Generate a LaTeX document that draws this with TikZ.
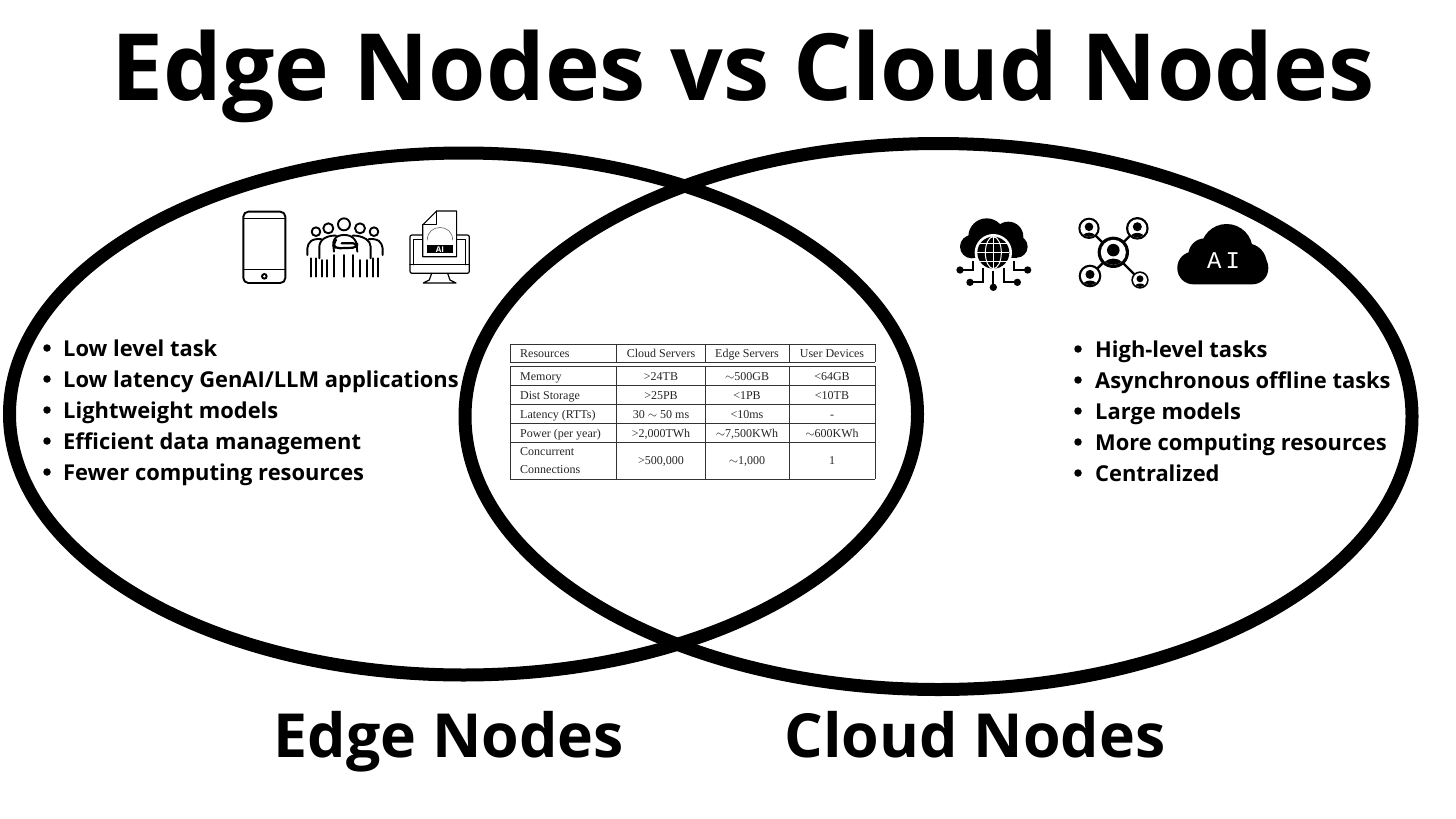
\documentclass[tikz,border=0pt]{standalone}
\usepackage{fontspec}
\setmainfont{Open Sans}
\newfontfamily\serifx{Liberation Serif}
\newfontfamily\monox{Liberation Mono}
\usetikzlibrary{calc}
\tikzset{
  x=1pt,y=-1pt,
  ring/.style={draw=black,line width=13pt},
  bigtitle/.style={anchor=base,inner sep=0pt,font=\fontsize{92.8}{92.8}\selectfont\bfseries},
  sublabel/.style={anchor=base,inner sep=0pt,font=\fontsize{60.8}{60.8}\selectfont\bfseries},
  item/.style={anchor=base west,inner sep=0pt,font=\fontsize{21.9}{26}\selectfont\bfseries},
  dot/.style={circle,fill=black,inner sep=0pt,minimum size=7.5pt},
  cell/.style={inner sep=0pt,anchor=base,text=black!85,font=\serifx\fontsize{12}{16.5}\selectfont},
  celll/.style={cell,anchor=base west},
  rule/.style={draw=black!80,line width=0.9pt},
  zoomA/.style={shift={(220,195)},x=0.3333pt,y=-0.3333pt},
  zoomB/.style={shift={(940,200)},x=0.3333pt,y=-0.3333pt},
  ic/.style={draw=black,line width=1.5pt,line join=round,line cap=round},
}
\newcommand{\userdisc}[3]{% x y r  in zoom units
  \fill[black] (#1,#2) circle (#3);
  \fill[white] (#1,#2) circle ({#3*0.8});
  \begin{scope}
    \clip (#1,#2) circle ({#3*0.8});
    \fill[black] ($(#1,#2)+(0,{-0.14*#3})$) circle ({#3*0.4});
    \fill[black] ($(#1,#2)+(0,{#3*1.05})$) ellipse ({#3*0.75} and {#3*0.65});
  \end{scope}
}
\begin{document}
\begin{tikzpicture}
\useasboundingbox (0,0) rectangle (1456,819);
\fill[white] (0,0) rectangle (1456,819);
% Venn rings
\draw[ring] (463.5,414) ellipse (454 and 261);
\draw[ring] (938.5,416.5) ellipse (473.5 and 273);
% titles
\node[bigtitle] (title) at (743,100) {Edge Nodes vs Cloud Nodes};
\node[sublabel] (edgelabel) at (449,757) {Edge Nodes};
\node[sublabel] (cloudlabel) at (975,757) {Cloud Nodes};
% left list
\foreach \n/\y/\t in {a/348/{Low level task},b/379/{Low latency GenAI/LLM applications},c/410/{Lightweight models},d/441/{Efficient data management},e/472/{Fewer computing resources}}{
  \node[dot] (ld\n) at (47,\y) {};
  \node[item] (lt\n) at (63,\y+8) {\t};
}
% right list
\foreach \n/\y/\t in {a/349/{High-level tasks},b/380/{Asynchronous offline tasks},c/411/{Large models},d/442/{More computing resources},e/473/{Centralized}}{
  \node[dot] (rd\n) at (1078,\y) {};
  \node[item] (rt\n) at (1095,\y+8) {\t};
}
% table
\draw[rule] (510,344) -- (875,344) (510,362) -- (875,362);
\draw[rule] (510,366) -- (875,366) (510,385) -- (875,385) (510,404) -- (875,404) (510,423) -- (875,423) (510,442) -- (875,442) (510,479) -- (875,479);
\draw[rule] (510,344) -- (510,362) (616,344) -- (616,362) (705,344) -- (705,362) (789,344) -- (789,362) (875,344) -- (875,362);
\draw[rule] (510,366) -- (510,479) (616,366) -- (616,479) (705,366) -- (705,479) (789,366) -- (789,479) (875,366) -- (875,479);
\node[celll] (h0) at (520,357) {Resources};
\node[cell] (h1) at (661,357) {Cloud Servers};
\node[cell] (h2) at (747,357) {Edge Servers};
\node[cell] (h3) at (832,357) {User Devices};
\node[celll] (m0) at (520,380) {Memory};
\node[cell] (m1) at (661,380) {>24TB};
\node[cell] (m2) at (747,380) {$\sim$500GB};
\node[cell] (m3) at (832,380) {<64GB};
\node[celll] (s0) at (520,399) {Dist Storage};
\node[cell] (s1) at (661,399) {>25PB};
\node[cell] (s2) at (747,399) {<1PB};
\node[cell] (s3) at (832,399) {<10TB};
\node[celll] (l0) at (520,418) {Latency (RTTs)};
\node[cell] (l1) at (661,418) {30 $\sim$ 50 ms};
\node[cell] (l2) at (747,418) {<10ms};
\node[cell] (l3) at (832,418) {-};
\node[celll] (p0) at (520,437) {Power (per year)};
\node[cell] (p1) at (661,437) {>2,000TWh};
\node[cell] (p2) at (747,437) {$\sim$7,500KWh};
\node[cell] (p3) at (832,437) {$\sim$600KWh};
\node[celll] (c0) at (520,455) {Concurrent};
\node[celll] (c0b) at (520,473) {Connections};
\node[cell] (c1) at (661,464) {>500,000};
\node[cell] (c2) at (747,464) {$\sim$1,000};
\node[cell] (c3) at (832,464) {1};
\begin{scope}[zoomA]
% phone
\draw[ic,line width=1.9pt,rounded corners=5pt] (70,50) rectangle (196,264);
\draw[ic,line width=1.5pt] (70,70) -- (196,70) (70,223) -- (196,223);
\fill[black] (133,244) circle (10);
\fill[white] (133,244) circle (4);
% people
\foreach \x/\y/\r in {288/110/13,325/100/15,372/88/18,420/100/15,462/110/13}{\draw[ic,line width=1.9pt] (\x,\y) circle (\r);}
\draw[ic,line width=1.9pt,rounded corners=5pt] (262,180) -- (262,145) -- (285,130) -- (305,133);
\draw[ic,line width=1.9pt,rounded corners=5pt] (488,180) -- (488,145) -- (465,130) -- (445,133);
\draw[ic,line width=1.9pt,rounded corners=5pt] (298,190) -- (298,140) -- (325,122) -- (348,122);
\draw[ic,line width=1.9pt,rounded corners=5pt] (452,190) -- (452,140) -- (420,122) -- (398,122);
\draw[ic,line width=1.9pt,rounded corners=6pt] (342,170) -- (338,130) -- (372,116) -- (408,130) -- (412,170);
\draw[ic,line width=2.2pt,rounded corners=4pt] (348,135) -- (338,150) -- (348,160) -- (410,158) -- (412,145) -- (365,145);
\foreach \x/\t in {272/190,288/190,305/195,322/195,342/180,372/180,400/180,420/195,440/195,458/190,475/190}{\draw[ic,line width=1.9pt] (\x,\t) -- (\x,245);}
% AI monitor
\draw[ic,line width=1.2pt,rounded corners=2pt] (570,120) rectangle (748,235);
\draw[ic,line width=1pt] (570,210) -- (748,210) (580,210) -- (580,133) -- (738,133) -- (738,210);
\draw[ic,line width=1.2pt] (635,235) -- (628,255) -- (610,264) -- (708,264) -- (690,255) -- (683,235);
\fill[white] (608,90) -- (650,48) -- (710,48) -- (710,185) -- (608,185) -- cycle;
\draw[ic,line width=1.2pt] (608,90) -- (650,48) -- (710,48) -- (710,185) -- (608,185) -- cycle;
\draw[ic,line width=1pt] (650,48) -- (650,90) -- (608,90);
\draw[ic,line width=0.6pt,black!60] (622,135) .. controls (622,85) and (698,85) .. (698,135);
\fill[black] (620,150) rectangle (700,175);
\node[inner sep=0pt,text=white,font=\fontsize{8}{8}\selectfont\bfseries] (ailabel) at (660,162.5) {AI};
\end{scope}
\begin{scope}[zoomB]
% globe cloud
\fill[black] (140,110) circle (55) (205,110) circle (45) (95,140) circle (35) (230,140) circle (33);
\fill[black] (95,120) rectangle (230,175);
\fill[white] (160,158) circle (56);
\fill[black] (160,158) circle (48);
\draw[white,line width=1pt] (112,158) -- (208,158) (120,130) -- (200,130) (120,186) -- (200,186) (160,110) -- (160,206);
\draw[white,line width=1pt] (160,158) ellipse (24 and 48);
\draw[black,line width=1.8pt] (60,210) -- (100,210) -- (100,182) (90,247) -- (130,247) -- (130,205) (160,262) -- (160,214) (232,247) -- (193,247) -- (193,205) (263,210) -- (222,210) -- (222,182);
\foreach \x/\y in {60/210,90/247,160/262,232/247,263/210}{\fill[black] (\x,\y) circle (11);}
% network
\draw[black,line width=2.4pt] (445,85) -- (600,240) (592,85) -- (450,228);
\userdisc{520}{157}{47}
\userdisc{447}{85}{32}
\userdisc{592}{85}{34}
\userdisc{450}{228}{34}
\userdisc{600}{240}{26}
% AI cloud
\fill[black] (860,150) circle (78) (795,165) circle (50);
\fill[black,rounded corners=16pt] (712,155) rectangle (985,253);
\fill[black] (920,190) circle (60);
\node[inner sep=0pt,text=white,font=\monox\fontsize{24}{24}\selectfont] (aicloud) at (851,183) {A\,I};
\end{scope}
\end{tikzpicture}
\end{document}
